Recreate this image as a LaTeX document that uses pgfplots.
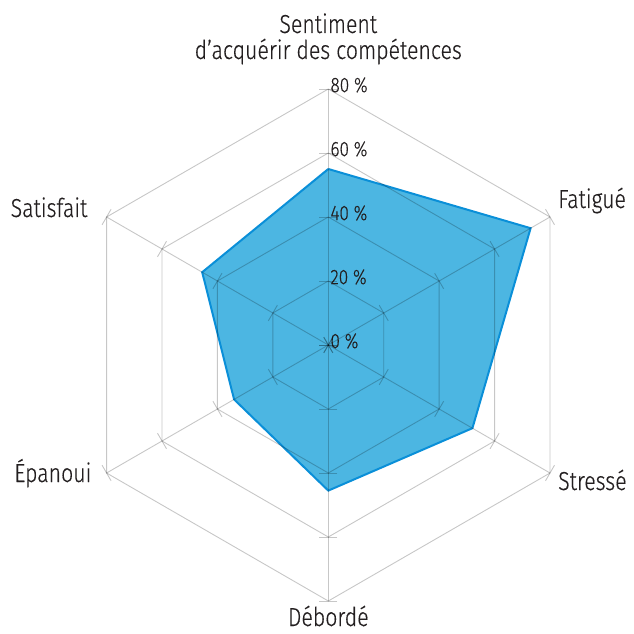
\documentclass[border=0pt]{standalone}
\usepackage{pgfplots}
\pgfplotsset{compat=1.18}
\usepgfplotslibrary{polar}
\usepackage{fontspec}
\setmainfont{Fira Sans Light}[FakeStretch=0.82, FakeBold=0.35]
\definecolor{fillblue}{HTML}{4CB6E2}
\definecolor{edgeblue}{HTML}{0A8FD8}
\definecolor{txt}{HTML}{231F20}
\tikzset{
  gridl/.style={black, opacity=0.22, line width=0.9pt},
  cat/.style={font=\fontsize{26}{30}\selectfont, text=txt, inner sep=0pt},
  tl/.style={font=\fontsize{21}{24}\selectfont, text=txt, inner sep=0pt, anchor=west, xshift=2pt, yshift=4pt},
}
\begin{document}
\begin{tikzpicture}
\begin{polaraxis}[
  width=512pt, height=512pt, scale only axis,
  hide axis, ymin=0, ymax=80, xmin=0, xmax=360,
  clip=false,
]
% data
\addplot[fill=fillblue, draw=edgeblue, line width=2pt, no marks]
  coordinates {(90,55) (30,73) (330,52) (270,45.5) (210,34) (150,45.5) (90,55)};
% hexagonal rings
\addplot[gridl, no marks] coordinates {(90,20) (30,20) (330,20) (270,20) (210,20) (150,20) (90,20)};
\addplot[gridl, no marks] coordinates {(90,40) (30,40) (330,40) (270,40) (210,40) (150,40) (90,40)};
\addplot[gridl, no marks] coordinates {(90,60) (30,60) (330,60) (270,60) (210,60) (150,60) (90,60)};
\addplot[gridl, no marks] coordinates {(90,80) (30,80) (330,80) (270,80) (210,80) (150,80) (90,80)};
% spokes with ticks
\addplot[gridl, mark=-, mark size=9pt, mark options={rotate=180}] coordinates {(90,0) (90,20) (90,40) (90,60) (90,80)};
\addplot[gridl, mark=-, mark size=9pt, mark options={rotate=120}] coordinates {(30,0) (30,20) (30,40) (30,60) (30,80)};
\addplot[gridl, mark=-, mark size=9pt, mark options={rotate=60}] coordinates {(330,0) (330,20) (330,40) (330,60) (330,80)};
\addplot[gridl, mark=-, mark size=9pt, mark options={rotate=0}] coordinates {(270,0) (270,20) (270,40) (270,60) (270,80)};
\addplot[gridl, mark=-, mark size=9pt, mark options={rotate=120}] coordinates {(210,0) (210,20) (210,40) (210,60) (210,80)};
\addplot[gridl, mark=-, mark size=9pt, mark options={rotate=60}] coordinates {(150,0) (150,20) (150,40) (150,60) (150,80)};
% tick labels
\node[tl] at (axis cs:90,0) {0 \%};
\node[tl] at (axis cs:90,20) {20 \%};
\node[tl] at (axis cs:90,40) {40 \%};
\node[tl] at (axis cs:90,60) {60 \%};
\node[tl] at (axis cs:90,80) {80 \%};
% category labels
\node[cat, anchor=base, yshift=56pt] at (axis cs:90,80) {Sentiment};
\node[cat, anchor=base, yshift=30pt] at (axis cs:90,80) {d’acquérir des compétences};
\node[cat, anchor=base west, xshift=8pt, yshift=9pt] at (axis cs:30,80) {Fatigué};
\node[cat, anchor=base west, xshift=8pt, yshift=-17pt] at (axis cs:330,80) {Stressé};
\node[cat, anchor=base, yshift=-25pt] at (axis cs:270,80) {Débordé};
\node[cat, anchor=base east, xshift=-15pt, yshift=-9pt] at (axis cs:210,80) {Épanoui};
\node[cat, anchor=base east, xshift=-19pt, yshift=0pt] at (axis cs:150,80) {Satisfait};
\coordinate (C) at (axis cs:0,0);
\end{polaraxis}
\pgfresetboundingbox
\path[use as bounding box] (C) ++(-328.3pt,345pt) rectangle ++(634pt,-634pt);
\end{tikzpicture}
\end{document}
